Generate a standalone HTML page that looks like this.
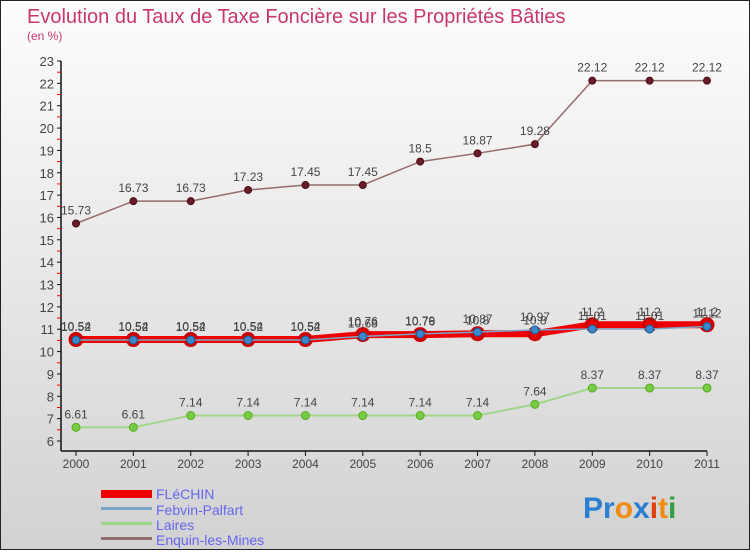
<!DOCTYPE html>
<html><head><meta charset="utf-8">
<style>
body{margin:0;width:750px;height:550px;overflow:hidden;font-family:"Liberation Sans",sans-serif}
#wrap{position:relative;width:748px;height:548px;border:1px solid #222;background:linear-gradient(#fdfdfd,#d2d2d2)}
</style></head><body>
<div id="wrap">
<svg id="svg" width="748" height="548">
<text x="26" y="22" font-size="20" fill="#c8366e">Evolution du Taux de Taxe Foncière sur les Propriétés Bâties</text>
<text x="26" y="39" font-size="12" fill="#c8366e">(en %)</text>
<g id="axes"></g><g id="series"></g>
<g>
<rect x="100" y="489" width="51" height="8" fill="#ee0000"/>
<text x="155" y="498" font-size="14" fill="#6666ee">FLéCHIN</text>
<rect x="100" y="506" width="51" height="3" fill="#7aa7c8"/>
<text x="155" y="514" font-size="14" fill="#6666ee">Febvin-Palfart</text>
<rect x="100" y="521" width="51" height="3" fill="#9fd68a"/>
<text x="155" y="529" font-size="14" fill="#6666ee">Laires</text>
<rect x="100" y="536" width="51" height="3" fill="#946c6c"/>
<text x="155" y="544" font-size="14" fill="#6666ee">Enquin-les-Mines</text>
</g>
<g font-size="30" font-weight="bold">
<text x="582" y="517"><tspan fill="#2a7fd0">Pr</tspan><tspan fill="#f08a10">o</tspan><tspan fill="#2a7fd0">x</tspan><tspan fill="#e04010">i</tspan><tspan fill="#f08a10">t</tspan><tspan fill="#30a040">i</tspan></text>
</g>
</svg></div>
<script>
const years=[2000,2001,2002,2003,2004,2005,2006,2007,2008,2009,2010,2011];
const yTicks=[6,7,8,9,10,11,12,13,14,15,16,17,18,19,20,21,22,23];
const flechin=[10.54,10.54,10.54,10.54,10.54,10.76,10.76,10.8,10.8,11.2,11.2,11.2];
const febvin=[10.52,10.52,10.52,10.52,10.52,10.68,10.79,10.87,10.97,11.01,11.01,11.12];
const laires=[6.61,6.61,7.14,7.14,7.14,7.14,7.14,7.14,7.64,8.37,8.37,8.37];
const enquin=[15.73,16.73,16.73,17.23,17.45,17.45,18.5,18.87,19.28,22.12,22.12,22.12];
const NS="http://www.w3.org/2000/svg";
function xs(i){return 75+i*(706-75)/(years.length-1);}
function ys(v){return 440-(v-6)*(440-60)/17;}
function mk(t,a,p){const e=document.createElementNS(NS,t);for(const k in a)e.setAttribute(k,a[k]);p.appendChild(e);return e;}
const ax=document.getElementById('axes');
let l=mk('line',{x1:60,y1:60,x2:60,y2:450,stroke:'#111','stroke-width':1.5},ax);


l=mk('line',{x1:60,y1:450,x2:706,y2:450,stroke:'#111','stroke-width':1.5},ax);


yTicks.forEach(v=>{const y=ys(v);
 mk('line',{x1:56,y1:y,x2:60,y2:y,stroke:'#111'},ax);
 if(v<23)mk('line',{x1:56,y1:ys(v+0.5),x2:60,y2:ys(v+0.5),stroke:'#e00'},ax);
 const t=mk('text',{x:53,y:y+5,'font-size':13,fill:'#444','text-anchor':'end'},ax);t.textContent=v;
 
 });
years.forEach((yr,i)=>{const x=xs(i);
 mk('line',{x1:x,y1:450,x2:x,y2:455,stroke:'#111'},ax);
 const t=mk('text',{x:x,y:467,'font-size':12,fill:'#444','text-anchor':'middle'},ax);t.textContent=yr;
 
 });
const sg=document.getElementById('series');
function series(name,vals,color,w,dot,dotStroke,r){
 const g=mk('g',{},sg);
 
 
 mk('polyline',{points:vals.map((v,i)=>xs(i)+','+ys(v)).join(' '),fill:'none',stroke:color,'stroke-width':w},g);
 vals.forEach((v,i)=>{const c=mk('circle',{cx:xs(i),cy:ys(v),r:r,fill:dot,stroke:dotStroke,'stroke-width':r>5?3:1},g);
  
  
  const t=mk('text',{x:xs(i),y:ys(v)-9,'font-size':12,fill:'#444','text-anchor':'middle'},g);t.textContent=v;
  
  });
}
series('enquin',enquin,'#946c6c',1.5,'#6a1c2a','#4a0a14',3.5);
series('laires',laires,'#9fd68a',2,'#77cc44','#55aa22',4);
series('flechin',flechin,'#ee0000',7,'#ee0000','#cc0000',6);
series('febvin',febvin,'#7aa7c8',1.5,'#3a88cc','#1a5a99',4);
</script>
</body></html>
